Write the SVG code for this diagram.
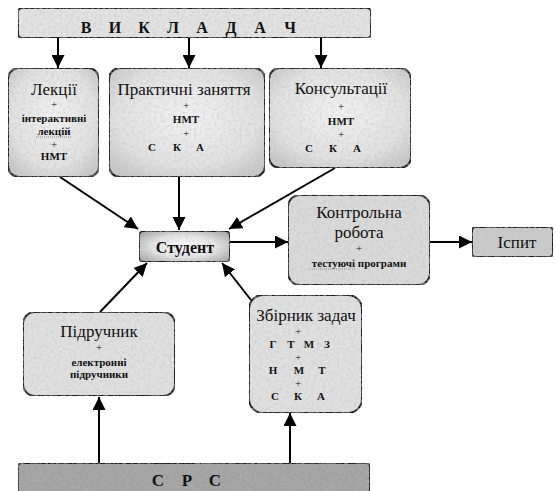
<svg xmlns="http://www.w3.org/2000/svg" width="556" height="491" viewBox="0 0 556 491">
<defs>
<style>
.box{stroke:#1a1a1a;stroke-width:2}
.t{font-family:"Liberation Serif","Times New Roman","DejaVu Serif",serif;fill:#111;text-anchor:middle}
.ti{font-size:17px}
.sm{font-size:11px;font-weight:bold}
.pl{font-size:11px}
.big{font-size:16px;font-weight:bold}
#connectors line{stroke:#000;stroke-width:2;marker-end:url(#ah)}
.sq{stroke:#888;stroke-width:1;stroke-dasharray:1 1}
</style>
<marker id="ah" markerWidth="13" markerHeight="13" refX="13" refY="6.5" orient="auto" markerUnits="userSpaceOnUse">
<path d="M0,0 L13,6.5 L0,13 z" fill="#000"/>
</marker>
<filter id="noise" x="0" y="0" width="100%" height="100%">
<feTurbulence type="fractalNoise" baseFrequency="0.35" numOctaves="3" seed="4" result="n"/>
<feColorMatrix in="n" type="matrix" values="0 0 0 0 0.5  0 0 0 0 0.5  0 0 0 0 0.5  0 0 0 -0.9 0.55" result="g"/>
<feComposite in="g" in2="SourceGraphic" operator="in" result="gi"/>
<feMerge><feMergeNode in="SourceGraphic"/><feMergeNode in="gi"/></feMerge>
</filter>
<radialGradient id="gLight" cx="50%" cy="45%" r="65%">
<stop offset="0" stop-color="#f2f2f2"/>
<stop offset="0.7" stop-color="#e2e2e2"/>
<stop offset="1" stop-color="#c8c8c8"/>
</radialGradient>
<radialGradient id="gStud" cx="50%" cy="50%" r="60%">
<stop offset="0" stop-color="#ffffff"/>
<stop offset="0.6" stop-color="#e4e4e4"/>
<stop offset="1" stop-color="#b0b0b0"/>
</radialGradient>
</defs>
<rect width="556" height="491" fill="#fff"/>

<g id="connectors">
<line x1="58" y1="38" x2="58" y2="68"/>
<line x1="189" y1="38" x2="189" y2="68"/>
<line x1="321" y1="38" x2="321" y2="68"/>
<line x1="60" y1="177" x2="138" y2="229"/>
<line x1="179" y1="177" x2="179" y2="230"/>
<line x1="335" y1="168" x2="229" y2="229"/>
<line x1="230" y1="242" x2="288" y2="242"/>
<line x1="430" y1="242" x2="472" y2="242"/>
<line x1="100" y1="312" x2="147" y2="263"/>
<line x1="251" y1="300" x2="222" y2="263"/>
<line x1="99" y1="463" x2="99" y2="397"/>
<line x1="290" y1="463" x2="290" y2="413"/>
</g>

<g id="vykladach">
<rect class="box" x="18" y="8" width="353" height="30" rx="4" fill="#e3e3e3" filter="url(#noise)"/>
<text class="t big" y="33" x="86 115 144 173 202 231 260 290">ВИКЛАДАЧ</text>
</g>

<g id="lektsii">
<rect class="box" x="8" y="68" width="91" height="109" rx="11" fill="url(#gLight)" filter="url(#noise)"/>
<text class="t ti" x="54" y="95">Лекції</text>
<text class="t pl" x="54" y="108">+</text>
<text class="t sm" x="54" y="122">інтерактивні</text>
<text class="t sm" x="54" y="135">лекцій</text>
<line class="sq" x1="36" y1="137" x2="72" y2="137"/>
<text class="t pl" x="54" y="148">+</text>
<text class="t sm" x="54" y="160">НМТ</text>
</g>

<g id="praktychni">
<rect class="box" x="109" y="68" width="156" height="109" rx="11" fill="url(#gLight)" filter="url(#noise)"/>
<text class="t ti" x="184" y="95">Практичні заняття</text>
<text class="t pl" x="186" y="109">+</text>
<text class="t sm" x="186" y="123">НМТ</text>
<text class="t pl" x="186" y="137">+</text>
<text class="t sm" y="151" x="152 177 200">СКА</text>
</g>

<g id="konsultatsii">
<rect class="box" x="269" y="68" width="142" height="100" rx="11" fill="url(#gLight)" filter="url(#noise)"/>
<text class="t ti" x="341" y="94">Консультації</text>
<text class="t pl" x="341" y="110">+</text>
<text class="t sm" x="341" y="125">НМТ</text>
<text class="t pl" x="341" y="138">+</text>
<text class="t sm" y="152" x="309 333 357">СКА</text>
</g>

<g id="student">
<rect class="box" x="139" y="231" width="91" height="31" rx="5" fill="url(#gStud)" filter="url(#noise)"/>
<text class="t big" x="185" y="253">Студент</text>
</g>

<g id="kontrolna">
<rect class="box" x="288" y="195" width="142" height="90" rx="12" fill="#dadada" filter="url(#noise)"/>
<text class="t ti" x="359" y="218">Контрольна</text>
<text class="t ti" x="359" y="238">робота</text>
<text class="t pl" x="359" y="252">+</text>
<text class="t sm" x="359" y="267">тестуючі програми</text>
<line class="sq" x1="310" y1="269" x2="356" y2="269"/>
</g>

<g id="ispyt">
<rect class="box" x="472" y="227" width="81" height="30" rx="4" fill="#cbcbcb" filter="url(#noise)"/>
<text class="t ti" x="517" y="248">Іспит</text>
</g>

<g id="pidruchnyk">
<rect class="box" x="23" y="312" width="152" height="84" rx="12" fill="#e0e0e0" filter="url(#noise)"/>
<text class="t ti" x="99" y="337">Підручник</text>
<text class="t pl" x="99" y="351">+</text>
<text class="t sm" x="99" y="366">електронні</text>
<text class="t sm" x="99" y="378">підручники</text>
</g>

<g id="zbirnyk">
<rect class="box" x="249" y="295" width="113" height="118" rx="14" fill="#e0e0e0" filter="url(#noise)"/>
<text class="t ti" x="306" y="321">Збірник задач</text>
<text class="t pl" x="298" y="335">+</text>
<text class="t sm" y="348" x="273 291 309 327">ГТМЗ</text>
<text class="t pl" x="298" y="361">+</text>
<text class="t sm" y="374" x="273 299 322">НМТ</text>
<text class="t pl" x="298" y="387">+</text>
<text class="t sm" y="400" x="275 298 321">СКА</text>
</g>

<g id="srs">
<rect class="box" x="18" y="463" width="352" height="40" rx="4" fill="#a2a2a2" filter="url(#noise)"/>
<text class="t big" y="486" x="158 187 215" style="font-size:17px">СРС</text>
</g>
</svg>
